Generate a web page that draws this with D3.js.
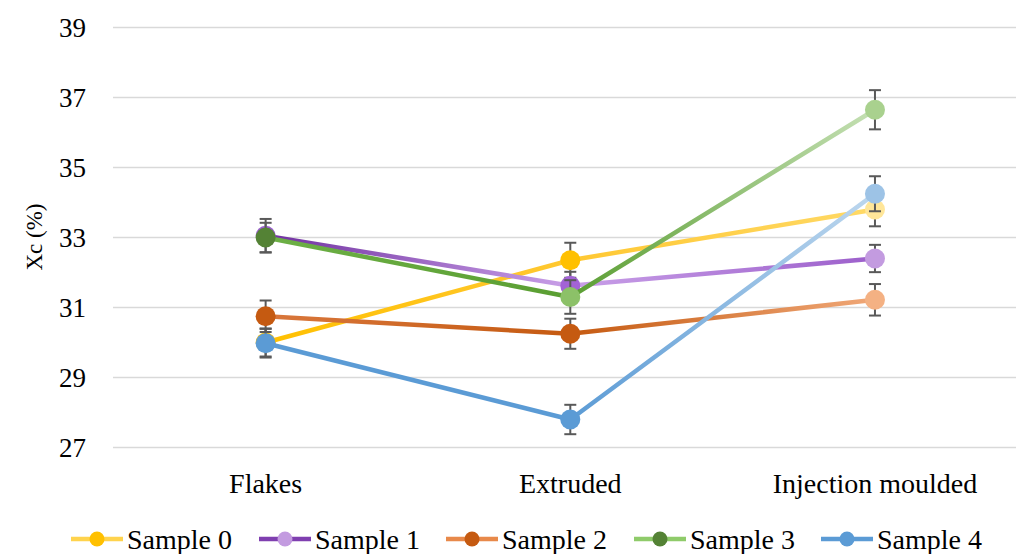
<!DOCTYPE html>
<html>
<head>
<meta charset="utf-8">
<script src="https://cdn.jsdelivr.net/npm/d3@7"></script>
<style>
  html, body { margin: 0; padding: 0; background: #fff; }
  svg { display: block; }
  text { font-family: "Liberation Serif", "Times New Roman", serif; fill: #000; }
</style>
</head>
<body>
<div id="chart"></div>
<script>
// ---- data ----
const categories = ["Flakes", "Extruded", "Injection moulded"];
const seriesNames = ["Sample 0", "Sample 1", "Sample 2", "Sample 3", "Sample 4"];
const sample0 = [30.0, 32.35, 33.8];
const sample1 = [33.05, 31.62, 32.4];
const sample2 = [30.75, 30.25, 31.22];
const sample3 = [33.0, 31.3, 36.65];
const sample4 = [29.98, 27.8, 34.25];
const err0 = [0.4, 0.5, 0.48];
const err1 = [0.48, 0.4, 0.39];
const err2 = [0.45, 0.43, 0.45];
const err3 = [0.42, 0.48, 0.56];
const err4 = [0.41, 0.42, 0.5];
const yTicks = [27, 29, 31, 33, 35, 37, 39];
const yTitle = "Xc (%)";

// colours
const markerColors = [
  ["#FFC000", "#FFC000", "#FFE699"],
  ["#9A5FCD", "#A363D6", "#C39BE0"],
  ["#C55A11", "#C55A11", "#F4B183"],
  ["#548235", "#8CC168", "#A9D18E"],
  ["#5B9BD5", "#5B9BD5", "#9DC3E6"]
];
const lineColors = [
  ["#FFC000", "#FFC832", "#FFD966"],
  ["#7030A0", "#C9A0E8", "#9C5FCB"],
  ["#D9773C", "#C55A11", "#F0A878"],
  ["#6DB046", "#5A9E32", "#C5E0B4"],
  ["#5B9BD5", "#5B9BD5", "#BDD7EE"]
];
const legendLineColors = ["#FFD34D", "#7F3FB0", "#E8894A", "#8FCB6A", "#5B9BD5"];
const legendMarkerColors = ["#FFC000", "#C39BE0", "#C55A11", "#548235", "#5B9BD5"];

const values = [sample0, sample1, sample2, sample3, sample4];
const errors = [err0, err1, err2, err3, err4];

// ---- layout ----
const W = 1016, H = 554;
const FONT = '"Liberation Serif", "Times New Roman", serif';
const svg = d3.select("#chart").append("svg").attr("width", W).attr("height", H);
const defs = svg.append("defs");

const x = d3.scaleBand().domain(categories).range([113.3, 1027.3]);
const cx = c => x(c) + x.bandwidth() / 2;
const y = d3.scaleLinear().domain([27, 39]).range([447.5, 27.5]);

// gridlines
svg.append("g").selectAll("line").data(yTicks).join("line")
  .attr("x1", 113).attr("x2", 1027.3)
  .attr("y1", d => y(d)).attr("y2", d => y(d))
  .attr("stroke", "#d9d9d9").attr("stroke-width", 1.5);

// y axis labels
const yAxis = d3.axisLeft(y).tickValues(yTicks).tickSize(0).tickPadding(0);
const yg = svg.append("g").attr("transform", "translate(86,0)").call(yAxis)
  .attr("font-family", FONT);
yg.select(".domain").remove();
yg.selectAll("text").style("font-family", FONT)
  .style("font-size", "27px").attr("fill", "#000").attr("dy", "0.34em");

// x axis labels
const xAxis = d3.axisBottom(x).tickSize(0).tickPadding(0);
const xg = svg.append("g").attr("transform", "translate(0,473)").call(xAxis)
  .attr("font-family", FONT);
xg.select(".domain").remove();
xg.selectAll("text").style("font-family", FONT)
  .style("font-size", "28px").attr("fill", "#000").attr("dy", "0.7em");

// y title
svg.append("text")
  .attr("transform", `translate(42,${237}) rotate(-90)`)
  .attr("text-anchor", "middle")
  .style("font-family", FONT)
  .style("font-size", "23px")
  .text(yTitle);

// series
values.forEach((vals, s) => {
  const g = svg.append("g");
  for (let i = 0; i < vals.length - 1; i++) {
    const x1 = cx(categories[i]), y1 = y(vals[i]);
    const x2 = cx(categories[i + 1]), y2 = y(vals[i + 1]);
    const id = `grad-${s}-${i}`;
    const gr = defs.append("linearGradient").attr("id", id)
      .attr("gradientUnits", "userSpaceOnUse")
      .attr("x1", x1).attr("y1", y1).attr("x2", x2).attr("y2", y2);
    gr.append("stop").attr("offset", "0%").attr("stop-color", lineColors[s][i]);
    gr.append("stop").attr("offset", "100%").attr("stop-color", lineColors[s][i + 1]);
    g.append("path")
      .attr("d", d3.line()([[x1, y1], [x2, y2]]))
      .attr("stroke", `url(#${id})`).attr("stroke-width", 4.5)
      .attr("stroke-linecap", "round").attr("fill", "none");
  }
  const eb = g.append("g").attr("stroke", "#595959").attr("stroke-width", 2);
  vals.forEach((v, i) => {
    const px = cx(categories[i]);
    const top = y(v + errors[s][i]), bot = y(v - errors[s][i]);
    eb.append("line").attr("x1", px).attr("x2", px).attr("y1", top).attr("y2", bot);
    eb.append("line").attr("x1", px - 6).attr("x2", px + 6).attr("y1", top).attr("y2", top);
    eb.append("line").attr("x1", px - 6).attr("x2", px + 6).attr("y1", bot).attr("y2", bot);
  });
  g.selectAll("circle").data(vals).join("circle")
    .attr("cx", (d, i) => cx(categories[i]))
    .attr("cy", d => y(d))
    .attr("r", 10)
    .attr("fill", (d, i) => markerColors[s][i]);
});

// legend
const legendX = [71, 259, 446, 634, 821];
const legend = svg.append("g");
seriesNames.forEach((name, s) => {
  const lx = legendX[s], ly = 539;
  legend.append("line").attr("x1", lx).attr("x2", lx + 52).attr("y1", ly).attr("y2", ly)
    .attr("stroke", legendLineColors[s]).attr("stroke-width", 4.5);
  legend.append("circle").attr("cx", lx + 26).attr("cy", ly).attr("r", 7.5)
    .attr("fill", legendMarkerColors[s]);
  legend.append("text").attr("x", lx + 56).attr("y", ly).attr("dy", "0.34em")
    .style("font-family", FONT)
    .style("font-size", "28px").text(name);
});
</script>
</body>
</html>
